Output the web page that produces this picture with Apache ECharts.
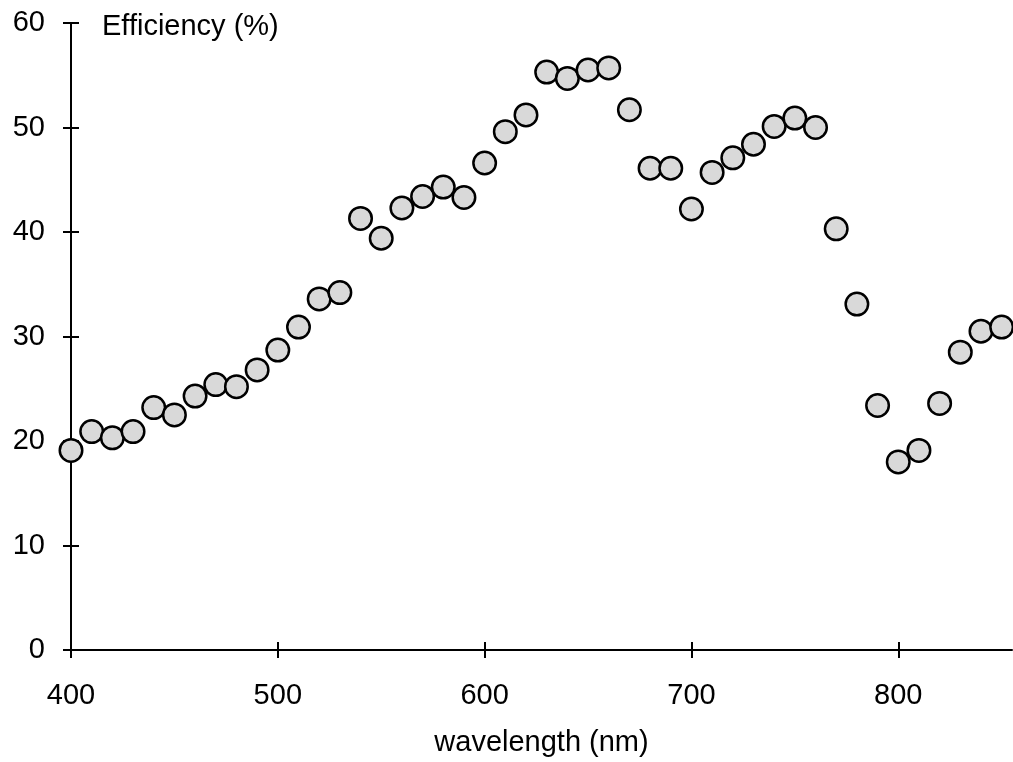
<!DOCTYPE html>
<html>
<head>
<meta charset="utf-8">
<script src="https://cdn.jsdelivr.net/npm/echarts@6/dist/echarts.min.js"></script>
<style>
    html, body { margin: 0; padding: 0; background: #fff; }
    #chart { width: 1013px; height: 762px; }
</style>
</head>
<body>
<div id="chart"></div>
<script>
// wavelength (nm) and efficiency (%)
var wavelengths = [400, 410, 420, 430, 440, 450, 460, 470, 480, 490,
    500, 510, 520, 530, 540, 550, 560, 570, 580, 590,
    600, 610, 620, 630, 640, 650, 660, 670, 680, 690,
    700, 710, 720, 730, 740, 750, 760, 770, 780, 790,
    800, 810, 820, 830, 840, 850];
var efficiency = [19.1, 20.9, 20.3, 20.9, 23.2, 22.5, 24.3, 25.4, 25.2, 26.8,
    28.7, 30.9, 33.6, 34.2, 41.3, 39.4, 42.3, 43.4, 44.3, 43.3,
    46.6, 49.6, 51.2, 55.3, 54.7, 55.5, 55.7, 51.7, 46.1, 46.1,
    42.2, 45.7, 47.1, 48.4, 50.1, 50.9, 50.0, 40.3, 33.1, 23.4,
    18.0, 19.1, 23.6, 28.5, 30.5, 30.9];
var xTicks = [400, 500, 600, 700, 800];
var yTicks = [0, 10, 20, 30, 40, 50, 60];

var font = 'Liberation Sans, Arial, sans-serif';
var points = [];
for (var i = 0; i < wavelengths.length; i++) {
    points.push([wavelengths[i], efficiency[i]]);
}

var chart = echarts.init(document.getElementById('chart'));

// second pair of axes only draws the inner half of the ticks, so they cross the line
function xAxisOf(inside) {
    return {
        type: 'value',
        min: 400,
        max: 855,
        interval: 100,
        position: 'bottom',
        splitLine: { show: false },
        axisLine: { show: !inside, lineStyle: { color: '#000', width: 2 } },
        axisTick: {
            show: true, inside: inside, length: 8, customValues: xTicks,
            lineStyle: { color: '#000', width: 2 }
        },
        axisLabel: {
            show: !inside, customValues: xTicks, margin: 31,
            color: '#000', fontSize: 29, fontFamily: font
        },
        name: inside ? '' : 'wavelength (nm)',
        nameLocation: 'middle',
        nameGap: 78,
        nameTextStyle: { color: '#000', fontSize: 29, fontFamily: font }
    };
}

function yAxisOf(inside) {
    return {
        type: 'value',
        min: 0,
        max: 60,
        interval: 10,
        position: 'left',
        splitLine: { show: false },
        axisLine: { show: !inside, lineStyle: { color: '#000', width: 2 } },
        axisTick: {
            show: true, inside: inside, length: 8, customValues: yTicks,
            lineStyle: { color: '#000', width: 2 }
        },
        axisLabel: {
            show: !inside, customValues: yTicks, margin: 26,
            color: '#000', fontSize: 29, fontFamily: font
        }
    };
}

chart.setOption({
    backgroundColor: '#fff',
    animation: false,
    title: {
        text: 'Efficiency (%)',
        left: 97,
        top: 7,
        textStyle: { color: '#000', fontSize: 29, fontWeight: 'normal', fontFamily: font }
    },
    grid: { left: 71, right: 1, top: 23, bottom: 107 },
    xAxis: [xAxisOf(false), xAxisOf(true)],
    yAxis: [yAxisOf(false), yAxisOf(true)],
    series: [
        {
            type: 'scatter',
            xAxisIndex: 0,
            yAxisIndex: 0,
            symbol: 'circle',
            symbolSize: 22.5,
            clip: false,
            itemStyle: {
                color: '#d9d9d9',
                borderColor: '#000',
                borderWidth: 2.5,
                opacity: 1
            },
            data: points
        }
    ]
});
</script>
</body>
</html>
